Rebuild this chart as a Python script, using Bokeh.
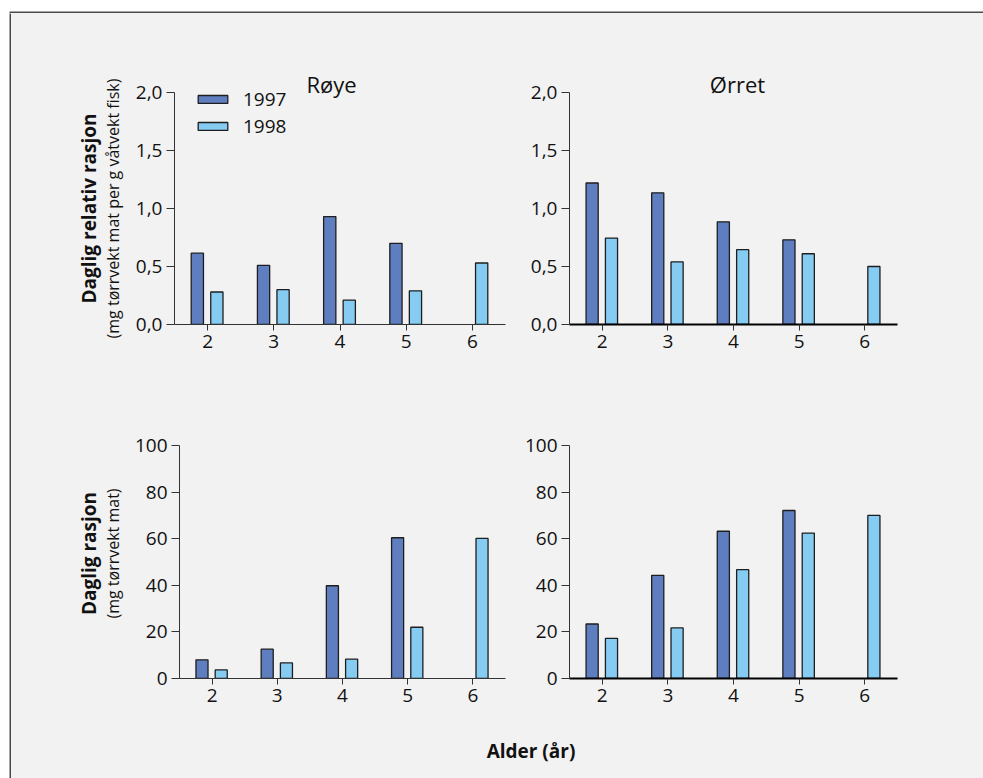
import math
import numpy as np
from bokeh.plotting import figure
from bokeh.layouts import row, column
from bokeh.models import (ColumnDataSource, FixedTicker, Range1d, Label, Legend,
                          LegendItem, CustomJSTickFormatter)
from bokeh.transform import dodge
from bokeh.embed import file_html
from bokeh.resources import INLINE

# ---- data -------------------------------------------------------------
ages = [2, 3, 4, 5, 6]
years = ["1997", "1998"]

# daily relative ration (mg dry weight food per g wet weight fish)
roye_rel_1997 = [0.615, 0.51, 0.93, 0.70, None]
roye_rel_1998 = [0.28, 0.30, 0.21, 0.29, 0.53]
orret_rel_1997 = [1.22, 1.135, 0.885, 0.73, None]
orret_rel_1998 = [0.745, 0.54, 0.645, 0.61, 0.50]

# daily ration (mg dry weight food)
roye_ration_1997 = [8.0, 12.6, 39.8, 60.4, None]
roye_ration_1998 = [3.7, 6.7, 8.3, 22.0, 60.1]
orret_ration_1997 = [23.4, 44.3, 63.2, 72.1, None]
orret_ration_1998 = [17.2, 21.7, 46.7, 62.4, 70.0]

rel_ticks = [0, 0.5, 1.0, 1.5, 2.0]
rel_tick_labels = ["0,0", "0,5", "1,0", "1,5", "2,0"]
ration_ticks = [0, 20, 40, 60, 80, 100]
ration_tick_labels = ["0", "20", "40", "60", "80", "100"]

species = ["Røye", "Ørret"]
rel_label = ["Daglig relativ rasjon", "(mg tørrvekt mat per g våtvekt fisk)"]
ration_label = ["Daglig rasjon", "(mg tørrvekt mat)"]
x_label = "Alder (år)"

# ---- style ------------------------------------------------------------
BG = "#f2f2f2"
FRAME = "#4a4a4a"
C97 = "#5e7ec0"
C98 = "#86ccf2"
EDGE = "#1e1e1e"
FONT = "Open Sans"
TXT = "#111111"
TICK_SIZE = "19px"


def nan(vals):
    return [np.nan if v is None else v for v in vals]


def panel(width, height, borders, y_top, tick_vals, tick_text, v97, v98, thick_x,
          headroom=0):
    """Bar panel; `headroom` adds pixels of empty frame above the top tick."""
    left, right, top, bottom = borders
    frame_h = height - top - bottom
    per_px = y_top / frame_h
    p = figure(width=width, height=height, output_backend="svg", toolbar_location=None,
               title=None, x_range=Range1d(1.5, 6.5),
               y_range=Range1d(0, y_top + headroom * per_px),
               min_border_left=left, min_border_right=right,
               min_border_top=top - headroom, min_border_bottom=bottom,
               background_fill_color=BG, border_fill_color=BG,
               outline_line_color=None)
    src = ColumnDataSource(dict(age=ages, v97=nan(v97), v98=nan(v98)))
    r97 = p.vbar(x=dodge("age", -0.155, range=p.x_range), top="v97", bottom=0,
                 width=0.185, source=src, fill_color=C97, line_color=EDGE, line_width=1.3)
    r98 = p.vbar(x=dodge("age", 0.14, range=p.x_range), top="v98", bottom=0,
                 width=0.185, source=src, fill_color=C98, line_color=EDGE, line_width=1.3)

    p.grid.visible = False
    p.xaxis.ticker = FixedTicker(ticks=ages)
    p.yaxis.ticker = FixedTicker(ticks=tick_vals)
    p.yaxis.bounds = (0, y_top)
    p.yaxis.formatter = CustomJSTickFormatter(
        args=dict(vals=tick_vals, txt=tick_text),
        code="const i = vals.indexOf(tick); return i >= 0 ? txt[i] : '';")
    for ax in p.axis:
        ax.major_tick_in = 0
        ax.minor_tick_line_color = None
        ax.major_label_text_font = FONT
        ax.major_label_text_font_size = TICK_SIZE
        ax.major_label_text_color = TXT
        ax.major_label_standoff = 4
        ax.major_tick_line_color = "#333333"
        ax.axis_line_color = "#333333"
    p.yaxis.major_tick_out = 8
    p.xaxis.major_tick_out = 6
    if thick_x:
        p.xaxis.axis_line_width = 2.2
        p.xaxis.axis_line_color = "#000000"
    return p, r97, r98


def text(p, s, x, y, size, bold=False, angle=0.0):
    p.add_layout(Label(x=x, y=y, x_units="screen", y_units="screen", text=s,
                       angle=angle, text_align="center", text_baseline="middle",
                       text_font=FONT, text_font_size=size, text_color=TXT,
                       text_font_style="bold" if bold else "normal"))


def blank(width, height, fill=BG, border=BG, **borders):
    opts = dict(min_border=0)
    opts.update(borders)
    f = figure(width=width, height=height, output_backend="svg", toolbar_location=None,
               title=None, x_range=Range1d(0, 1), y_range=Range1d(0, 1),
               background_fill_color=fill, border_fill_color=border,
               outline_line_color=None, **opts)
    f.axis.visible = False
    f.grid.visible = False
    return f


# panel geometry (pixels): left, right, top, bottom borders
HEAD = 28
tl, r97, r98 = panel(389, 377, (43, 15, 79, 66), 2.0, rel_ticks, rel_tick_labels,
                     roye_rel_1997, roye_rel_1998, False, headroom=HEAD)
tr, _, _ = panel(463, 377, (49, 86, 79, 66), 2.0, rel_ticks, rel_tick_labels,
                 orret_rel_1997, orret_rel_1998, True, headroom=HEAD)
bl, _, _ = panel(389, 330, (43, 15, 55, 42), 100, ration_ticks, ration_tick_labels,
                 roye_ration_1997, roye_ration_1998, False)
br, _, _ = panel(463, 330, (49, 86, 55, 42), 100, ration_ticks, ration_tick_labels,
                 orret_ration_1997, orret_ration_1998, True)

# column titles, in the empty space above each top panel's axis
text(tl, species[0], 157, 241, "22px")
text(tr, species[1], 168, 241, "22px")

# y axis titles, in a strip to the left of the panels
ystrip = blank(120, 707)
text(ystrip, rel_label[0], 77, 512, "19px", bold=True, angle=math.pi / 2)
text(ystrip, rel_label[1], 101, 512, "16px", angle=math.pi / 2)
text(ystrip, ration_label[0], 77, 167, "19px", bold=True, angle=math.pi / 2)
text(ystrip, ration_label[1], 101, 167, "16px", angle=math.pi / 2)

# legend
legend = Legend(items=[LegendItem(label=years[0], renderers=[r97]),
                       LegendItem(label=years[1], renderers=[r98])],
                location=(20, 185), orientation="vertical",
                glyph_width=37, glyph_height=10, label_standoff=12,
                label_text_font=FONT, label_text_font_size="19px", label_text_color=TXT,
                spacing=1, padding=0, margin=0,
                background_fill_alpha=0, border_line_alpha=0)
tl.add_layout(legend)

# shared x axis title
xf = blank(972, 58)
text(xf, x_label, 519.5, 28, "19px", bold=True)

# white margin with a dark rule along the top and left of the panel area
top_rule = blank(983, 13, fill=FRAME, border="white", min_border_left=9, min_border_top=11)
left_rule = blank(11, 765, fill=FRAME, border="white", min_border_left=9)

body = column(row(ystrip, column(row(tl, tr), row(bl, br))), xf,
              styles={"background-color": BG})
root = column(top_rule, row(left_rule, body))

open("out.html", "w").write(file_html(root, INLINE))
